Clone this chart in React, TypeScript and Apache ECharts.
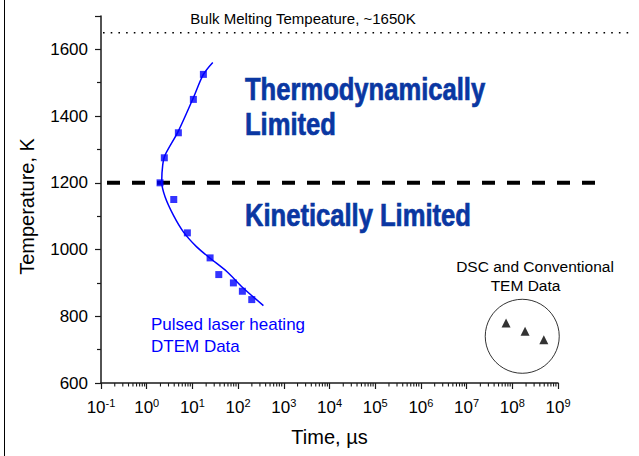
import React, { useEffect, useRef } from "react";
import * as echarts from "echarts";

// Pulsed laser heating DTEM data (time in µs, temperature in K)
const dtemTime = [17.4, 10.5, 4.93, 2.43, 1.96, 3.91, 7.76, 24.4, 37.8, 78.9, 124, 199];
const dtemTemp = [1525, 1450, 1350, 1275, 1200, 1150, 1050, 975, 925, 900, 875, 850];
// Fitted curve through DTEM data
const fitTime = [27.9, 17.4, 10.5, 4.93, 2.52, 2.24, 2.13, 2.52, 3.83, 6.34, 12.4, 24.4, 56.5, 131, 358];
const fitTemp = [1561, 1525, 1455, 1355, 1283, 1253, 1203, 1158, 1103, 1053, 1008, 974, 934, 884, 832];
// DSC and conventional TEM data
const dscTime = [7.3e7, 1.9e8, 4.9e8];
const dscTemp = [780, 755, 730];
// Circle enclosing DSC data
const circleTime = [1.65e8];
const circleTemp = [740];
// Reference temperatures
const meltTemp = 1650;
const boundaryTemp = 1200;
// Axis ranges
const xMin = 0.1;
const xMax = 1e9;
const yMin = 600;
const yMax = 1700;
// Log-axis minor tick multipliers within each decade
const minorMultipliers = [2, 3, 4, 5, 6, 7, 8, 9];
const decadeExps = [-1, 0, 1, 2, 3, 4, 5, 6, 7, 8];

const FONT = "'Liberation Sans', Arial, sans-serif";
const BLUE_TITLE = "#0a37a2";
const AXIS_COLOR = "#1a1a1a";

export default function App() {
  const ref = useRef<HTMLDivElement>(null);
  useEffect(() => {
    if (!ref.current) return;
    const chart = echarts.init(ref.current, null, { renderer: "svg" });

    chart.setOption({
      animation: false,
      backgroundColor: "#fff",
      grid: { left: 101, right: 81, top: 16, bottom: 73, containLabel: false },
      xAxis: {
        type: "log",
        logBase: 10,
        min: xMin,
        max: xMax,
        splitNumber: 10,
        name: "Time, µs",
        nameLocation: "middle",
        nameGap: 44,
        nameTextStyle: { fontSize: 20, color: "#000", fontFamily: FONT },
        axisLine: { show: true, onZero: false, lineStyle: { color: AXIS_COLOR, width: 1.5 } },
        axisTick: { show: true, inside: false, length: 6, lineStyle: { color: AXIS_COLOR, width: 1.2 } },
        minorTick: { show: false },
        splitLine: { show: false },
        axisLabel: {
          margin: 14,
          formatter: (v: number) => {
            const e = Math.round(Math.log10(v));
            return `{b|10}{s|${e}}`;
          },
          rich: {
            b: { fontSize: 17, color: "#000", fontFamily: FONT, lineHeight: 20 },
            s: { fontSize: 11, color: "#000", fontFamily: FONT, verticalAlign: "top", lineHeight: 11 },
          },
        },
      },
      yAxis: {
        type: "value",
        min: yMin,
        max: yMax,
        interval: 200,
        name: "Temperature, K",
        nameLocation: "middle",
        nameGap: 64,
        nameRotate: 90,
        nameTextStyle: { fontSize: 20, color: "#000", fontFamily: FONT, padding: [0, 14, 0, 0] },
        axisLine: { show: true, lineStyle: { color: AXIS_COLOR, width: 1.5 } },
        axisTick: { show: true, inside: false, length: 6, lineStyle: { color: AXIS_COLOR, width: 1.2 } },
        minorTick: { show: true, splitNumber: 2, length: 4, lineStyle: { color: AXIS_COLOR, width: 1.2 } },
        splitLine: { show: false },
        axisLabel: {
          fontSize: 17,
          color: "#000",
          fontFamily: FONT,
          margin: 13,
          formatter: (v: number) => (v === yMax ? "" : String(v)),
        },
      },
      series: [
        {
          type: "line",
          data: fitTime.map((t, i) => [t, fitTemp[i]]),
          showSymbol: false,
          smooth: 0.3,
          lineStyle: { color: "#0000ff", width: 1.5 },
          silent: true,
          z: 2,
        },
        {
          type: "scatter",
          data: dtemTime.map((t, i) => [t, dtemTemp[i]]),
          symbol: "rect",
          symbolSize: 7,
          itemStyle: { color: "#0000ff" },
          z: 3,
        },
        {
          type: "scatter",
          data: dscTime.map((t, i) => [t, dscTemp[i]]),
          symbol: "triangle",
          symbolSize: 9,
          itemStyle: { color: "#000" },
          z: 3,
        },
        {
          type: "scatter",
          data: circleTime.map((t, i) => [t, circleTemp[i]]),
          symbol: "circle",
          symbolSize: 74,
          itemStyle: { color: "rgba(0,0,0,0)", borderColor: "#000", borderWidth: 1 },
          silent: true,
          z: 1,
        },
      ],
    });

    const yMelt = chart.convertToPixel({ yAxisIndex: 0 }, meltTemp) as number;
    const yBound = chart.convertToPixel({ yAxisIndex: 0 }, boundaryTemp) as number;
    const yAxisBase = chart.convertToPixel({ yAxisIndex: 0 }, yMin) as number;

    // log-axis minor ticks positioned through the x axis scale
    const minorTickEls: any[] = [];
    decadeExps.forEach((e) => {
      minorMultipliers.forEach((m) => {
        const px = chart.convertToPixel({ xAxisIndex: 0 }, m * Math.pow(10, e)) as number;
        minorTickEls.push({
          type: "line",
          shape: { x1: px, y1: yAxisBase, x2: px, y2: yAxisBase + 3.5 },
          style: { stroke: AXIS_COLOR, lineWidth: 1.1 },
          silent: true,
        });
      });
    });

    const bigText = (text: string, x: number, y: number) => ({
      type: "text",
      x,
      y,
      scaleX: 0.825,
      style: {
        text,
        fontSize: 31,
        fontWeight: "bold",
        fontFamily: FONT,
        fill: BLUE_TITLE,
        stroke: BLUE_TITLE,
        lineWidth: 0.7,
        align: "left",
        verticalAlign: "middle",
      },
    });

    chart.setOption({
      graphic: [
        { type: "line", shape: { x1: 4.5, y1: 0, x2: 4.5, y2: 456 }, style: { stroke: "#000", lineWidth: 1 } },
        ...minorTickEls,
        {
          type: "line",
          shape: { x1: 103, y1: yMelt, x2: 634, y2: yMelt },
          style: { stroke: "#000", lineWidth: 1.6, lineDash: [1.6, 6.1] },
        },
        {
          type: "line",
          shape: { x1: 107, y1: yBound, x2: 602, y2: yBound },
          style: { stroke: "#000", lineWidth: 4, lineDash: [13, 12] },
        },
        {
          type: "text",
          x: 303,
          y: 18,
          style: { text: "Bulk Melting Tempeature, ~1650K", fontSize: 15, fontFamily: FONT, fill: "#000", align: "center", verticalAlign: "middle" },
        },
        bigText("Thermodynamically", 245, 89),
        bigText("Limited", 245, 124),
        bigText("Kinetically Limited", 245, 215.5),
        {
          type: "text",
          x: 151,
          y: 324.5,
          style: { text: "Pulsed laser heating", fontSize: 17, fontFamily: FONT, fill: "#0000ff", align: "left", verticalAlign: "middle" },
        },
        {
          type: "text",
          x: 151,
          y: 346.5,
          style: { text: "DTEM Data", fontSize: 17, fontFamily: FONT, fill: "#0000ff", align: "left", verticalAlign: "middle" },
        },
        {
          type: "text",
          x: 535,
          y: 266,
          style: { text: "DSC and Conventional", fontSize: 15.5, fontFamily: FONT, fill: "#000", align: "center", verticalAlign: "middle" },
        },
        {
          type: "text",
          x: 525.5,
          y: 285.5,
          style: { text: "TEM Data", fontSize: 15.5, fontFamily: FONT, fill: "#000", align: "center", verticalAlign: "middle" },
        },
      ],
    });

    return () => chart.dispose();
  }, []);
  return <div ref={ref} style={{ position: "fixed", left: 0, top: 0, width: 639, height: 456 }} />;
}
